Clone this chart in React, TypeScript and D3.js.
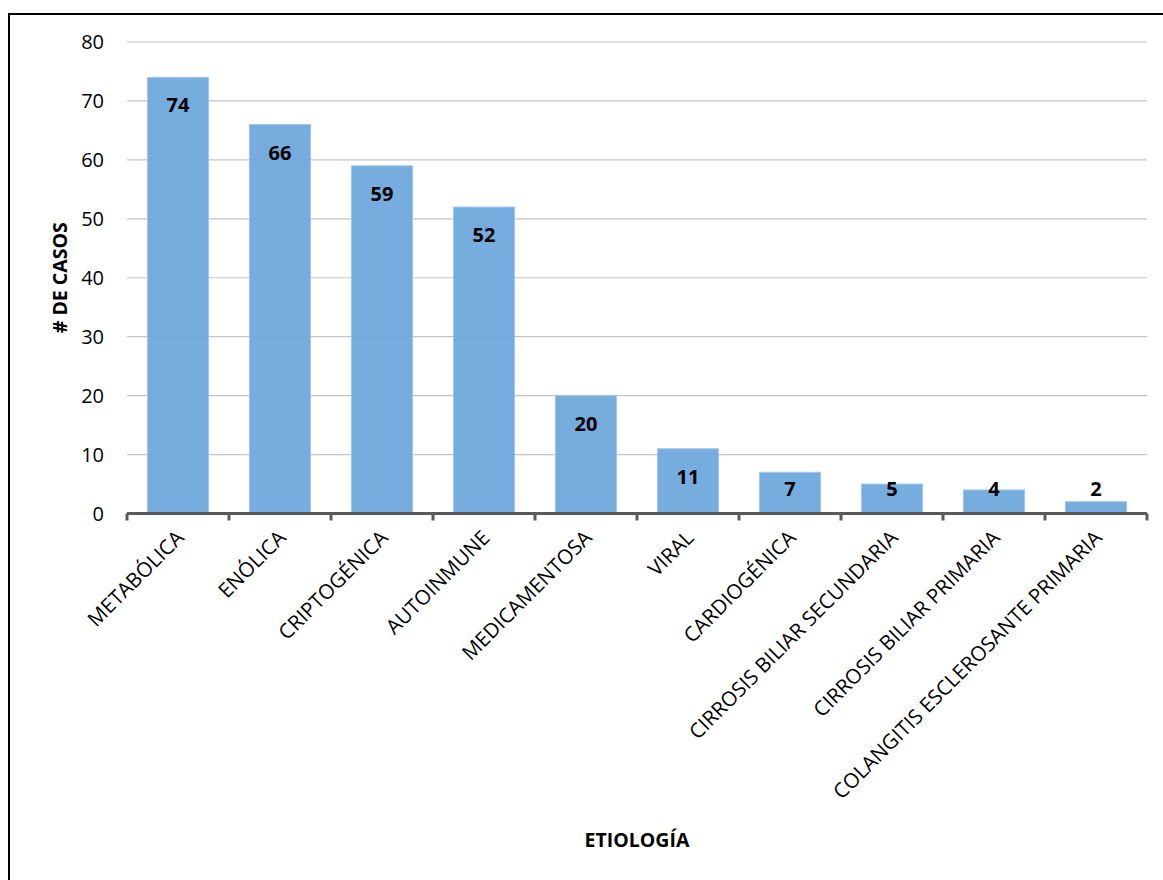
import React from "react";
import * as d3 from "d3";

// Casos por etiología
const categories = [
  "METABÓLICA",
  "ENÓLICA",
  "CRIPTOGÉNICA",
  "AUTOINMUNE",
  "MEDICAMENTOSA",
  "VIRAL",
  "CARDIOGÉNICA",
  "CIRROSIS BILIAR SECUNDARIA",
  "CIRROSIS BILIAR PRIMARIA",
  "COLANGITIS ESCLEROSANTE PRIMARIA",
];
const casos = [74, 66, 59, 52, 20, 11, 7, 5, 4, 2];
const yTicks = [0, 10, 20, 30, 40, 50, 60, 70, 80];

const W = 1163;
const H = 880;
const plot = { left: 127, right: 1147, top: 42, bottom: 513.5 };
const FONT = "'Open Sans', 'Noto Sans', sans-serif";

export default function App() {
  const x = d3
    .scaleBand<string>()
    .domain(categories)
    .range([plot.left, plot.right])
    .paddingInner(0.4)
    .paddingOuter(0.2);
  const y = d3.scaleLinear().domain([0, 80]).range([plot.bottom, plot.top]);
  const step = x.step();
  const boundaries = d3.range(categories.length + 1).map((i) => plot.left + i * step);

  return (
    <svg
      width={W}
      height={H}
      style={{ position: "absolute", left: 0, top: 0, background: "#fff" }}
      fontFamily={FONT}
    >
      <rect x={9} y={14} width={1200} height={900} fill="#fff" stroke="#000" strokeWidth={2} />

      {/* horizontal gridlines */}
      {yTicks.map((t) => (
        <line
          key={t}
          x1={plot.left}
          x2={plot.right}
          y1={y(t)}
          y2={y(t)}
          stroke="#c4c4c4"
          strokeWidth={1.2}
        />
      ))}

      {/* y tick labels */}
      {yTicks.map((t) => (
        <text key={t} x={104} y={y(t)} dy="0.35em" textAnchor="end" fontSize={20} fill="#000">
          {t}
        </text>
      ))}

      {/* bars */}
      {categories.map((c, i) => (
        <rect
          key={c}
          x={x(c)}
          y={y(casos[i])}
          width={x.bandwidth()}
          height={plot.bottom - y(casos[i])}
          fill="#6fa8dc"
          fillOpacity={0.95}
          stroke="#a4c8ea"
          strokeWidth={1}
        />
      ))}

      {/* value labels */}
      {categories.map((c, i) => (
        <text
          key={c}
          x={(x(c) as number) + x.bandwidth() / 2}
          y={Math.min(y(casos[i]) + 28, 489)}
          dy="0.35em"
          textAnchor="middle"
          fontSize={20}
          fontWeight="bold"
          fill="#000"
        >
          {casos[i]}
        </text>
      ))}

      {/* x axis line and tick marks */}
      <line x1={plot.left} x2={plot.right} y1={plot.bottom} y2={plot.bottom} stroke="#595959" strokeWidth={3} />
      {boundaries.map((bx, i) => (
        <line key={i} x1={bx} x2={bx} y1={plot.bottom} y2={plot.bottom + 7} stroke="#595959" strokeWidth={3} />
      ))}

      {/* category labels */}
      {categories.map((c) => {
        const cx = (x(c) as number) + x.bandwidth() / 2 + 2;
        const cy = 534;
        return (
          <text
            key={c}
            transform={`translate(${cx},${cy}) rotate(-45)`}
            textAnchor="end"
            dy="0.35em"
            fontSize={20.5}
            fill="#000"
          >
            {c}
          </text>
        );
      })}

      {/* axis titles */}
      <text
        transform={`translate(60,${(plot.top + plot.bottom) / 2}) rotate(-90)`}
        textAnchor="middle"
        dy="0.35em"
        fontSize={19.5}
        fontWeight="bold"
      >
        # DE CASOS
      </text>
      <text x={637} y={840} textAnchor="middle" dy="0.35em" fontSize={19.5} fontWeight="bold">
        ETIOLOGÍA
      </text>
    </svg>
  );
}
